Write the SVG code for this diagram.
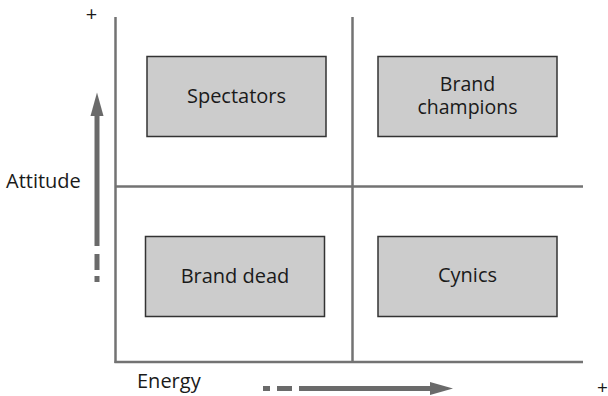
<svg xmlns="http://www.w3.org/2000/svg" width="608" height="396" viewBox="0 0 608 396">
<style>
.t{font-family:"Open Sans","Liberation Sans",sans-serif;font-size:20px;fill:#1a1a1a}
.m{text-anchor:middle}
.box{fill:#cccccc;stroke:#333333;stroke-width:1.5}
.ax{stroke:#737373;stroke-width:2.5;fill:none}
.ar{fill:#6a6a6a}
</style>
<rect width="608" height="396" fill="#ffffff"/>
<g id="connectors">
<line class="ax" x1="115.5" y1="17" x2="115.5" y2="363"/>
<line class="ax" x1="114.5" y1="362" x2="583" y2="362"/>
<line class="ax" x1="352.5" y1="17" x2="352.5" y2="362"/>
<line class="ax" x1="115.5" y1="186.5" x2="583" y2="186.5"/>
</g>
<g id="attitude-arrow">
<rect class="ar" x="94.5" y="114" width="5" height="132"/>
<polygon class="ar" points="97,92.5 103.5,116 90.5,116"/>
<rect class="ar" x="94.5" y="254" width="5" height="16"/>
<rect class="ar" x="94.5" y="276" width="5" height="6"/>
</g>
<g id="energy-arrow">
<rect class="ar" x="299" y="386" width="133" height="5"/>
<polygon class="ar" points="453,388.5 430,382 430,395"/>
<rect class="ar" x="277" y="386" width="15" height="5"/>
<rect class="ar" x="263" y="386" width="7" height="5"/>
</g>
<g id="labels">
<text class="t m" x="91.5" y="20.5">+</text>
<text class="t m" x="602.5" y="394" style="font-size:19px">+</text>
<text class="t" x="6" y="188">Attitude</text>
<text class="t" x="137" y="388">Energy</text>
</g>
<g id="spectators">
<rect class="box" x="147" y="56.5" width="179" height="80"/>
<text class="t m" x="236.5" y="102.5">Spectators</text>
</g>
<g id="brand-champions">
<rect class="box" x="378" y="56.5" width="179" height="80"/>
<text class="t m" style="font-size:19.5px"><tspan x="467.5" y="91">Brand</tspan><tspan x="467.5" y="113.5">champions</tspan></text>
</g>
<g id="brand-dead">
<rect class="box" x="145.5" y="236.5" width="179" height="80"/>
<text class="t m" x="235" y="282.5">Brand dead</text>
</g>
<g id="cynics">
<rect class="box" x="378" y="236.5" width="179" height="80"/>
<text class="t m" x="467.5" y="282">Cynics</text>
</g>
</svg>
